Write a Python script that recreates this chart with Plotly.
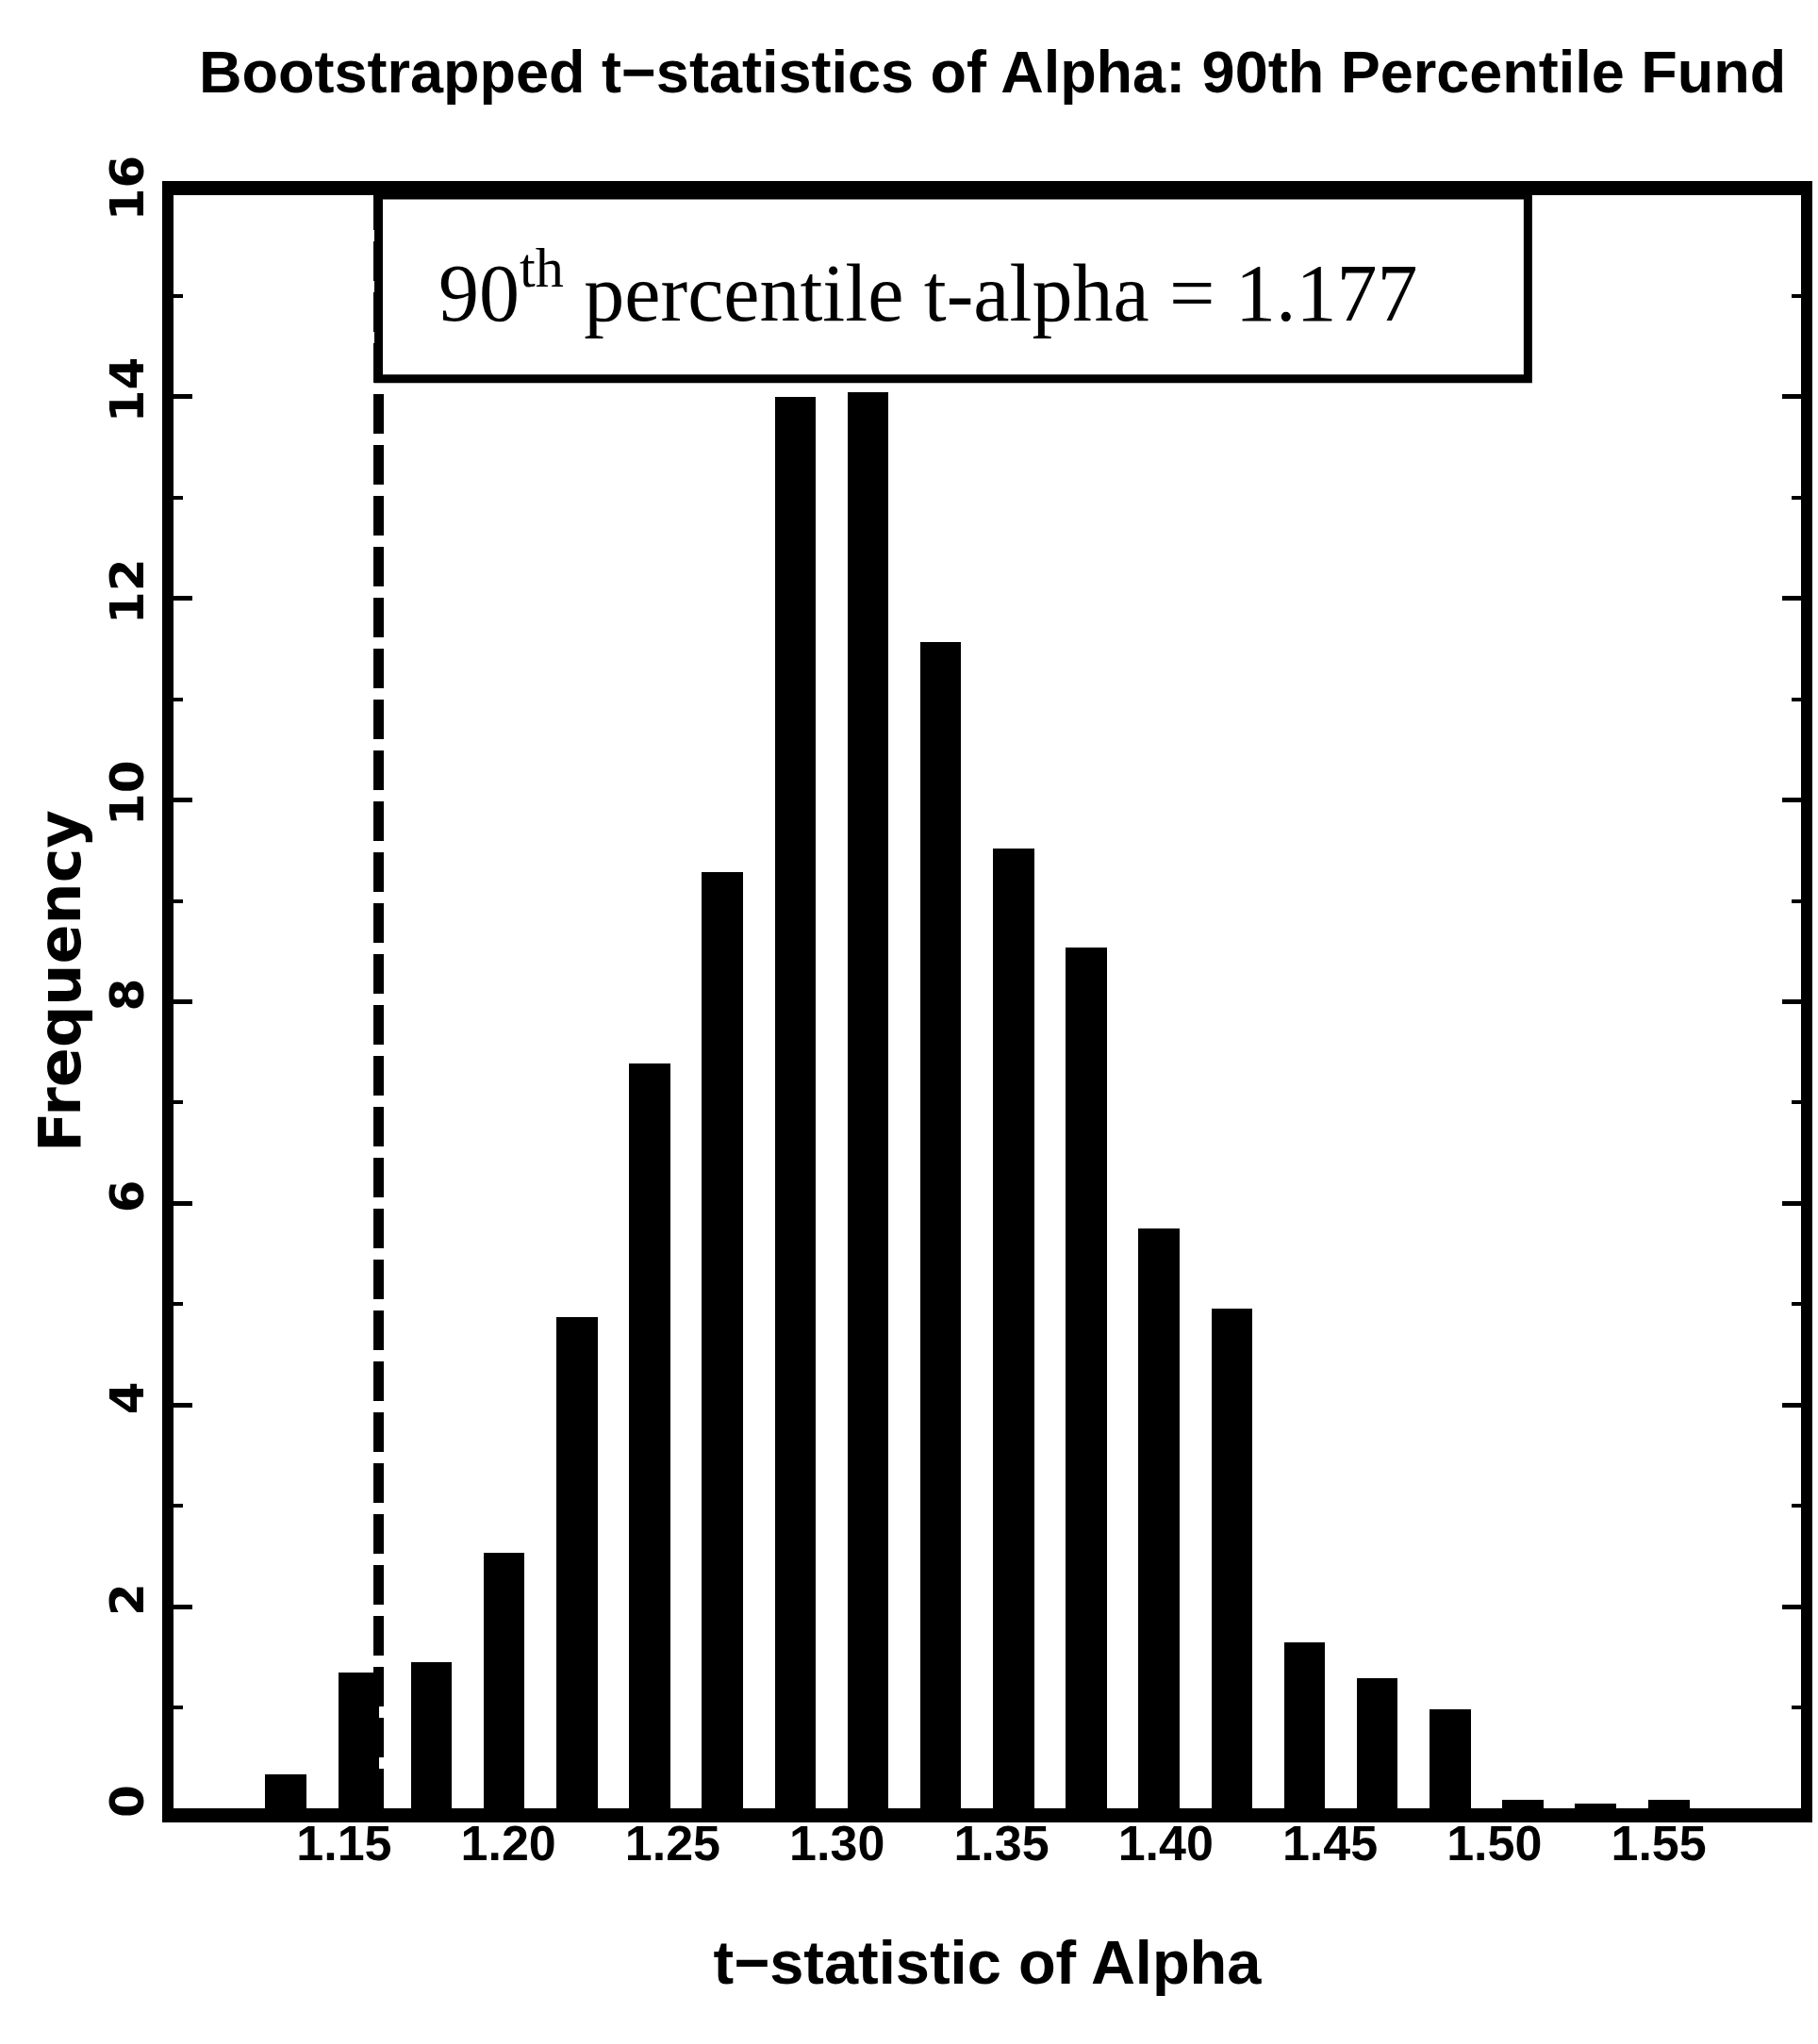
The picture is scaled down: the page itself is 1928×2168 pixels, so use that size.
import plotly.graph_objects as go

# ---- data ----
bin_centers = [1.1323, 1.1545, 1.1766, 1.1987, 1.2209, 1.2430, 1.2651, 1.2873,
               1.3094, 1.3315, 1.3537, 1.3758, 1.3979, 1.4201, 1.4422, 1.4643,
               1.4865, 1.5086, 1.5307, 1.5531]
frequency = [0.34, 1.35, 1.45, 2.53, 4.87, 7.39, 9.29, 14.0, 14.05, 11.57,
             9.52, 8.54, 5.75, 4.96, 1.65, 1.29, 0.98, 0.08, 0.05, 0.08]
x_ticks = [1.15, 1.20, 1.25, 1.30, 1.35, 1.40, 1.45, 1.50, 1.55]
x_tick_labels = ["1.15", "1.20", "1.25", "1.30", "1.35", "1.40", "1.45", "1.50", "1.55"]
y_ticks = [0, 2, 4, 6, 8, 10, 12, 14, 16]
percentile_line_x = 1.1605
box_right_x = 1.5102
box_bottom_y = 14.18

NARROW = "Liberation Sans, Arial, sans-serif"
WIDE = "DejaVu Sans, Verdana, sans-serif"
SERIF = "Liberation Serif, Times New Roman, serif"

fig = go.Figure()
fig.add_trace(go.Bar(
    x=bin_centers, y=frequency, width=0.0125,
    marker=dict(color="black", line=dict(width=0)),
    showlegend=False,
))

# dashed percentile line
fig.add_shape(type="line", xref="x", yref="y",
              x0=percentile_line_x, x1=percentile_line_x, y0=0, y1=16,
              line=dict(color="black", width=11, dash="42px,12px"))
# annotation box
fig.add_shape(type="rect", xref="x", yref="y",
              x0=percentile_line_x, x1=box_right_x, y0=box_bottom_y, y1=16,
              line=dict(color="black", width=9), fillcolor="white")
fig.add_annotation(
    xref="paper", yref="paper", x=0.4637, y=0.943,
    text="90<sup>th</sup> percentile t-alpha = 1.177",
    showarrow=False, xanchor="center", yanchor="middle",
    font=dict(family=SERIF, size=86, color="black"),
)
# y-axis title
fig.add_annotation(
    xref="paper", yref="paper", x=-0.0702, y=0.513,
    text="Frequency", textangle=-90,
    showarrow=False, xanchor="center", yanchor="middle",
    font=dict(family=WIDE, size=62, color="black", weight="bold"),
)

fig.update_layout(
    width=1928, height=2168,
    margin=dict(l=184, r=6, t=207, b=250),
    paper_bgcolor="white", plot_bgcolor="white",
    title=dict(text="Bootstrapped t−statistics of Alpha: 90th Percentile Fund",
               x=0.546, xanchor="center", y=1 - 76 / 2168, yanchor="middle",
               yref="container",
               font=dict(family=NARROW, size=63, color="black", weight="bold")),
    bargap=0,
)

fig.update_xaxes(
    range=[1.0981, 1.5933],
    tickvals=x_ticks, ticktext=x_tick_labels,
    showgrid=False, zeroline=False,
    showline=True, linecolor="black", linewidth=15, mirror=True,
    ticks="",
    ticklabelstandoff=-22,
    tickfont=dict(family=NARROW, size=52, color="black", weight="bold"),
    title=dict(text="t−statistic of Alpha",
               font=dict(family=NARROW, size=65, color="black", weight="bold"),
               standoff=82),
)
fig.update_yaxes(
    range=[0, 16],
    tickvals=y_ticks,
    showgrid=False, zeroline=False,
    showline=True, linecolor="black", linewidth=12, mirror="ticks",
    ticks="inside", ticklen=20, tickwidth=5, tickcolor="black",
    minor=dict(dtick=1, ticks="inside", ticklen=10, tickwidth=4, tickcolor="black"),
    tickangle=-90,
    tickfont=dict(family=WIDE, size=50, color="black", weight="bold"),
)

fig.write_html("out.html")
